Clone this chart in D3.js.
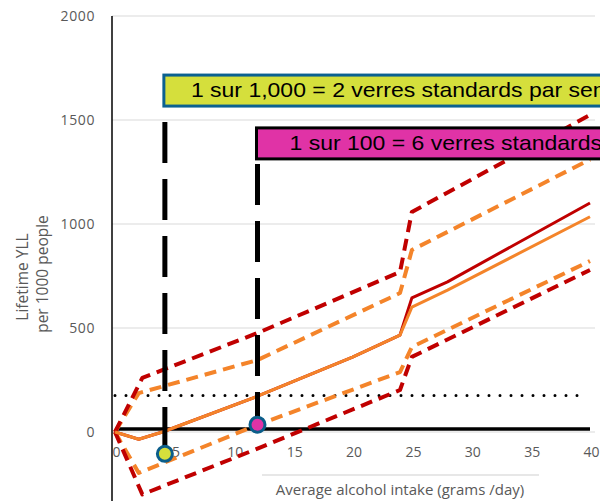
<!DOCTYPE html>
<html><head><meta charset="utf-8">
<script src="https://cdn.jsdelivr.net/npm/d3@7"></script>
<style>body{margin:0;background:#fff;}svg{display:block;}</style>
</head><body>
<svg id="chart" width="600" height="501"></svg>
<script>
// ---- data ----
const yTicks = [0, 500, 1000, 1500, 2000];
const xTicks = [0, 5, 10, 15, 20, 25, 30, 35, 40];
const centralX = [0, 2, 4, 12, 20, 24, 25, 28, 40];
const redCentral = [0, -35, 0, 172, 360, 466, 645, 722, 1101];
const orangeCentral = [0, -35, 0, 172, 360, 466, 600, 682, 1035];
const redDashX = [0, 2.3, 12, 24, 25, 40];
const redUpper = [0, 260, 476, 769, 1058, 1524];
const redLower = [0, -300, -80, 202, 361, 779];
const orangeDashX = [0, 2, 12, 24, 25, 40];
const orangeUpper = [0, 187, 346, 668, 875, 1310];
const orangeLower = [0, -197, 34, 288, 409, 822];
const dottedLevel = 175;
const refLevel = 15;
const thresholdX = [4.2, 12];
const thresholdY = [-105, 35];
const boxTop = [1716, 1462];
const boxBottom = [1567, 1313];
const boxLabels = ["1 sur 1,000 = 2 verres standards par semaine", "1 sur 100 = 6 verres standards par semaine"];
const boxFill = ["#d5df3c", "#e033a6"];
const boxStroke = ["#0b6190", "#000000"];
const yTitle = ["Lifetime YLL", "per 1000 people"];
const xTitle = "Average alcohol intake (grams /day)";

// ---- scales ----
const svg = d3.select("#chart");
const x = d3.scaleLinear().domain([0, 40]).range([115, 590]);
const y = d3.scaleLinear().domain([0, 2000]).range([432, 16]);
const gridL = 112, gridR = 595;
const gray = "#595959";
const font = "'Open Sans', sans-serif";

// gridlines
svg.append("g").selectAll("line").data(yTicks).join("line")
  .attr("x1", gridL).attr("x2", gridR)
  .attr("y1", d => y(d)).attr("y2", d => y(d))
  .attr("stroke", "#d9d9d9").attr("stroke-width", 1);

// y axis line
svg.append("line").attr("x1", gridL).attr("x2", gridL).attr("y1", y(2000)).attr("y2", 501)
  .attr("stroke", "#000").attr("stroke-width", 1.5);

// y tick labels
const yAxis = d3.axisLeft(y).tickValues(yTicks).tickFormat(d3.format("d")).tickSize(0).tickPadding(0);
const gy = svg.append("g").attr("transform", "translate(95,0)").call(yAxis);
gy.select(".domain").remove();
gy.selectAll("text").attr("fill", gray).style("font-family", font).style("font-size", "14px").style("letter-spacing", "0.6px");

// x tick labels
const xAxis = d3.axisBottom(x).tickValues(xTicks).tickSize(0).tickPadding(0);
const gx = svg.append("g").attr("transform", "translate(1,447)").call(xAxis);
gx.select(".domain").remove();
gx.selectAll("text").attr("fill", gray).style("font-family", font).style("font-size", "14px");

// x title and its rule
svg.append("line").attr("x1", 262).attr("x2", 539).attr("y1", 475).attr("y2", 475)
  .attr("stroke", "#d0d0d0").attr("stroke-width", 1.2);
svg.append("text").attr("x", 400).attr("y", 495).attr("text-anchor", "middle")
  .attr("fill", gray).style("font-family", font).style("font-size", "15px").text(xTitle);

// y title
svg.append("g").selectAll("text").data(yTitle).join("text")
  .attr("transform", (d, i) => `translate(${i === 0 ? 28 : 48},${i === 0 ? 277 : 274}) rotate(-90)`)
  .attr("text-anchor", "middle").attr("fill", gray)
  .style("font-family", font).style("font-size", "15.5px").text(d => d);

// dotted & reference lines
svg.append("line").attr("x1", x(0)).attr("x2", x(39.7)).attr("y1", y(dottedLevel)).attr("y2", y(dottedLevel))
  .attr("stroke", "#000").attr("stroke-width", 3).attr("stroke-linecap", "round").attr("stroke-dasharray", "0 11");
svg.append("line").attr("x1", x(0)).attr("x2", x(40)).attr("y1", y(refLevel)).attr("y2", y(refLevel))
  .attr("stroke", "#000").attr("stroke-width", 3.5);

// series
const line = d3.line().x(d => x(d[0])).y(d => y(d[1]));
const zip = (xs, ys) => xs.map((v, i) => [v, ys[i]]);
const series = [
  {pts: zip(orangeDashX, orangeUpper), c: "#f4842a", dash: true},
  {pts: zip(orangeDashX, orangeLower), c: "#f4842a", dash: true},
  {pts: zip(redDashX, redUpper), c: "#c00000", dash: true},
  {pts: zip(redDashX, redLower), c: "#c00000", dash: true},
  {pts: zip(centralX, redCentral), c: "#c00000", dash: false},
  {pts: zip(centralX, orangeCentral), c: "#f4842a", dash: false}
];
svg.append("g").selectAll("path").data(series).join("path")
  .attr("d", d => line(d.pts)).attr("fill", "none").attr("stroke", d => d.c)
  .attr("stroke-width", d => d.dash ? 4 : 3)
  .attr("stroke-dasharray", d => d.dash ? "12 7" : null)
  .attr("stroke-linejoin", "round");

// vertical threshold lines
const vOffset = [41, 52];
svg.append("g").selectAll("line").data(thresholdX).join("line")
  .attr("x1", d => x(d)).attr("x2", d => x(d))
  .attr("y1", (d, i) => y(boxBottom[i])).attr("y2", (d, i) => y(thresholdY[i]))
  .attr("stroke", "#000").attr("stroke-width", 5)
  .attr("stroke-dasharray", "41 16").attr("stroke-dashoffset", (d, i) => vOffset[i]);

// points
svg.append("g").selectAll("circle").data(thresholdX).join("circle")
  .attr("cx", d => x(d)).attr("cy", (d, i) => y(thresholdY[i])).attr("r", 7.5)
  .attr("fill", (d, i) => boxFill[i]).attr("stroke", "#0b5e8a").attr("stroke-width", 3);

// label boxes
const boxes = svg.append("g").selectAll("g").data(thresholdX).join("g");
boxes.append("rect")
  .attr("x", d => x(d) - 1).attr("y", (d, i) => y(boxTop[i]))
  .attr("width", 520).attr("height", (d, i) => y(boxBottom[i]) - y(boxTop[i]))
  .attr("fill", (d, i) => boxFill[i]).attr("stroke", (d, i) => boxStroke[i]).attr("stroke-width", 3);
boxes.append("text")
  .attr("transform", (d, i) => `translate(${x(d) + (i === 0 ? 26 : 32)},${y(boxBottom[i]) - 9}) scale(1.15,1)`)
  .attr("fill", "#000").style("font-family", "'Liberation Sans', Arial, sans-serif").style("font-size", "20px")
  .text((d, i) => boxLabels[i]);
</script>
</body></html>
